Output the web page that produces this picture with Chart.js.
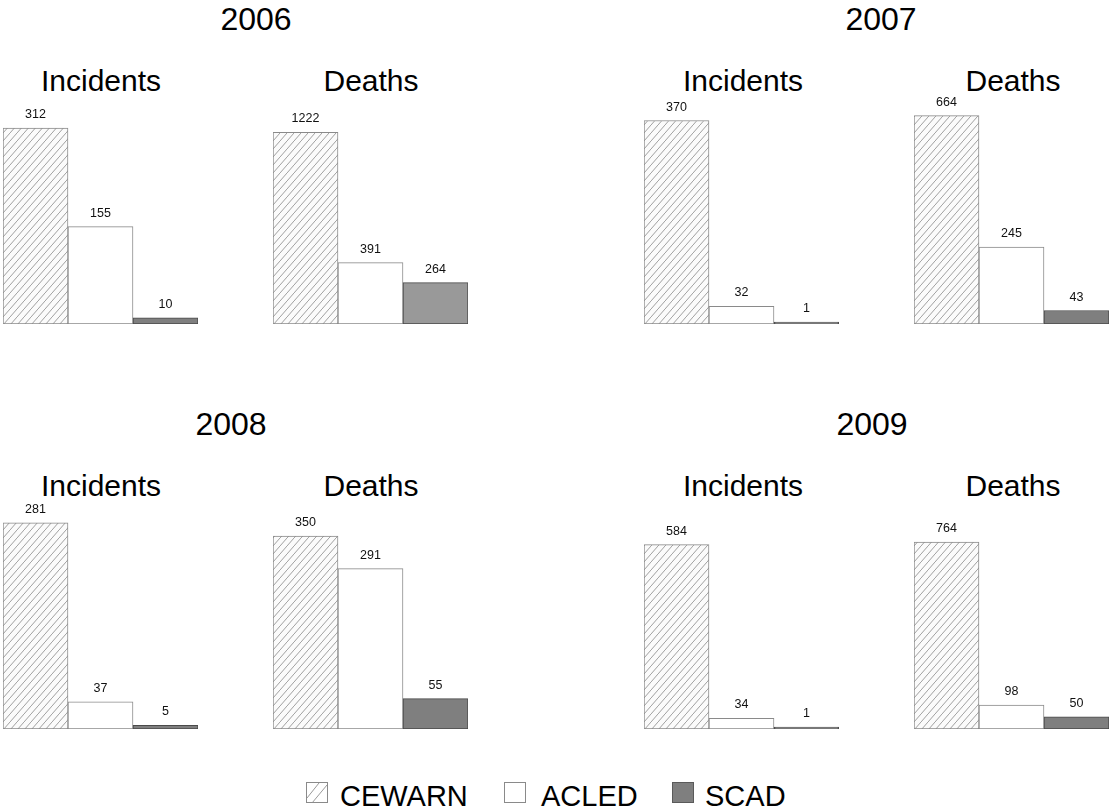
<!DOCTYPE html>
<html>
<head>
<meta charset="utf-8">
<script src="https://cdn.jsdelivr.net/npm/chart.js@4"></script>
<style>
  html, body { margin: 0; padding: 0; background: #fff; }
  body { width: 1109px; height: 812px; position: relative; overflow: hidden;
         font-family: Arial, "Liberation Sans", sans-serif; color: #000; }
  .txt { position: absolute; width: 240px; text-align: center; line-height: 1; white-space: nowrap; }
  .year { font-size: 32px; }
  .sub { font-size: 30px; }
  .box { position: absolute; width: 195px; height: 231px; }
  .legend { position: absolute; top: 782px; font-size: 29px; line-height: 1; }
  .sw { position: absolute; width: 22px; height: 21px; box-sizing: border-box; }
</style>
</head>
<body>

<script>
// ======================
// DATOS
// ======================
const years = ['2006', '2007', '2008', '2009'];
const sources = ['CEWARN', 'ACLED', 'SCAD'];

const cewarnIncidents = [312, 370, 281, 584];
const acledIncidents  = [155, 32, 37, 34];
const scadIncidents   = [10, 1, 5, 1];

const cewarnDeaths = [1222, 664, 350, 764];
const acledDeaths  = [391, 245, 291, 98];
const scadDeaths   = [264, 43, 55, 50];

// tope del eje y de cada panel (cada panel tiene su propia escala)
const incidentsAxisMax = [368, 420, 315, 732];
const deathsAxisMax    = [1472, 736, 419, 944];

// ======================
// ESTILOS Y POSICIONES
// ======================
const colLeft = [[3, 273], [644, 914]];     // [Incidents, Deaths] por columna
const rowTop = [93, 498];
const yearCenter = [[256, 7], [881, 7], [231, 412], [872, 412]];
const subCenter = [[101, 743], [371, 1013]];  // Incidents, Deaths por columna
const subCapTop = [70, 475];

function makeHatch(bg) {
  const w = 7, h = 8;
  const c = document.createElement('canvas');
  c.width = w; c.height = h;
  const g = c.getContext('2d');
  g.fillStyle = bg;
  g.fillRect(0, 0, w, h);
  g.strokeStyle = '#a0a0a0';
  g.lineWidth = 1;
  g.beginPath();
  g.moveTo(-w, 2 * h); g.lineTo(2 * w, -h);
  g.stroke();
  return g.createPattern(c, 'repeat');
}

function addText(cls, txt, cx, capTop, size) {
  const d = document.createElement('div');
  d.className = 'txt ' + cls;
  d.textContent = txt;
  d.style.left = (cx - 120) + 'px';
  d.style.top = (capTop - size * 0.1305) + 'px';
  document.body.appendChild(d);
}

// etiquetas encima de cada barra
const valueLabels = {
  id: 'valueLabels',
  afterDatasetsDraw(chart) {
    const ctx = chart.ctx;
    ctx.save();
    ctx.font = '12.5px Arial, "Liberation Sans", sans-serif';
    ctx.fillStyle = '#111';
    ctx.textAlign = 'center';
    ctx.textBaseline = 'alphabetic';
    const meta = chart.getDatasetMeta(0);
    meta.data.forEach((bar, i) => {
      ctx.fillText(String(chart.data.datasets[0].data[i]), bar.x, bar.y - 10);
    });
    ctx.restore();
  }
};

Chart.defaults.font.family = 'Arial, "Liberation Sans", sans-serif';

function makePanel(left, top, values, yMax, scadColour) {
  const box = document.createElement('div');
  box.className = 'box';
  box.style.left = left + 'px';
  box.style.top = top + 'px';
  const cv = document.createElement('canvas');
  box.appendChild(cv);
  document.body.appendChild(box);

  new Chart(cv.getContext('2d'), {
    type: 'bar',
    data: {
      labels: sources,
      datasets: [{
        data: values,
        backgroundColor: [makeHatch('#fbfbfb'), '#ffffff', scadColour],
        borderColor: ['#8a8a8a', '#8a8a8a', '#4a4a4a'],
        borderWidth: 1,
        borderSkipped: false,
        minBarLength: 2,
        barPercentage: 1,
        categoryPercentage: 1
      }]
    },
    options: {
      responsive: true,
      maintainAspectRatio: false,
      animation: false,
      layout: { padding: 0 },
      plugins: { legend: { display: false }, tooltip: { enabled: false } },
      scales: {
        x: { display: false },
        y: { display: false, min: 0, max: yMax }
      }
    },
    plugins: [valueLabels]
  });
}

// ======================
// DIBUJO
// ======================
years.forEach((yr, i) => {
  const col = i % 2, row = Math.floor(i / 2);
  addText('year', yr, yearCenter[i][0], yearCenter[i][1], 32);
  addText('sub', 'Incidents', subCenter[0][col], subCapTop[row], 30);
  addText('sub', 'Deaths', subCenter[1][col], subCapTop[row], 30);

  makePanel(colLeft[col][0], rowTop[row],
    [cewarnIncidents[i], acledIncidents[i], scadIncidents[i]],
    incidentsAxisMax[i], '#7f7f7f');
  makePanel(colLeft[col][1], rowTop[row],
    [cewarnDeaths[i], acledDeaths[i], scadDeaths[i]],
    deathsAxisMax[i], i === 0 ? '#999999' : '#7f7f7f');
});

// ======================
// LEYENDA
// ======================
const legendItems = [
  { name: 'CEWARN', sw: 306, tx: 340 },
  { name: 'ACLED',  sw: 504, tx: 541 },
  { name: 'SCAD',   sw: 672, tx: 705 }
];
legendItems.forEach((it, i) => {
  const s = document.createElement('canvas');
  s.className = 'sw';
  s.width = 22; s.height = 21;
  s.style.left = it.sw + 'px';
  s.style.top = '782px';
  const g = s.getContext('2d');
  g.fillStyle = i === 2 ? '#7f7f7f' : '#ffffff';
  g.fillRect(0, 0, 22, 21);
  if (i === 0) {
    g.strokeStyle = '#9a9a9a';
    g.beginPath();
    g.moveTo(1, 16); g.lineTo(13, 1);
    g.moveTo(6, 21); g.lineTo(21, 3);
    g.stroke();
  }
  g.strokeStyle = i === 2 ? '#5a5a5a' : '#8a8a8a';
  g.strokeRect(0.5, 0.5, 21, 20);
  document.body.appendChild(s);

  const t = document.createElement('div');
  t.className = 'legend';
  t.textContent = it.name;
  t.style.left = it.tx + 'px';
  document.body.appendChild(t);
});
</script>
</body>
</html>
